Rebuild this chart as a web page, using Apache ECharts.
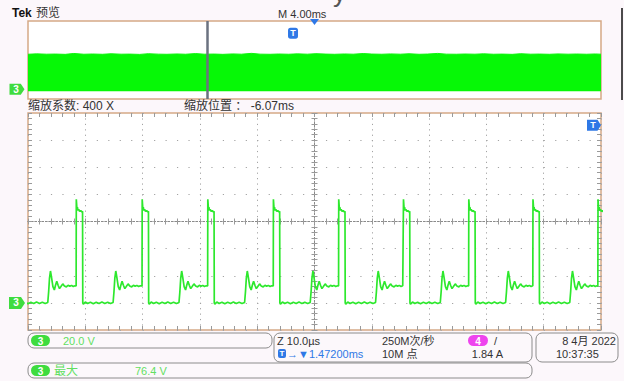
<!DOCTYPE html>
<html><head><meta charset="utf-8">
<script src="https://cdn.jsdelivr.net/npm/echarts/dist/echarts.min.js"></script>
<style>html,body{margin:0;padding:0;background:#fcf7fb;}#c{width:624px;height:381px;}</style>
</head><body><div id="c"></div>
<script>
// ---- data ----
// rising-edge times of the switching pulses (µs, relative to trigger at centre)
const edgeTimes = [-53.0, -41.6, -30.1, -18.65, -7.2, 4.2, 15.5, 26.9, 38.1, 49.45];
// one cycle of the trace, [µs after rising edge, volts]
const cycleShape = [
  [0, 12.5], [0.03, 76.4], [0.1, 72], [0.16, 68], [0.22, 70.5], [0.3, 68.5], [0.45, 69], [0.6, 67.5],
  [0.8, 68], [1.0, 67], [1.12, 67.5], [1.16, 0], [1.25, -1], [1.6, 0.6], [2.0, -0.5], [2.5, 0.5],
  [3.0, -0.6], [3.5, 0.4], [4.0, -0.5], [4.5, 0.6], [5.0, -0.4], [5.5, 0.5], [6.0, -0.5], [6.45, 0.3],
  [6.6, 8], [6.75, 18], [6.92, 23.5], [7.1, 19], [7.35, 12], [7.6, 9.5], [7.8, 13], [8.02, 16],
  [8.25, 13], [8.5, 10.5], [8.75, 12], [9.07, 14], [9.35, 12.5], [9.7, 11.8], [10.0, 13], [10.3, 12.2],
  [10.6, 12.9], [10.9, 12.1], [11.2, 12.6]
];
// preview (whole record) envelope top, [ms, volts]
const previewEnvelope = [[-20,75.8],[-19.4,76.6],[-18.7,75.9],[-18.1,76.2],[-17.4,75.6],[-16.8,77.4],[-16.1,75.8],[-15.5,76.3],[-14.8,75.7],[-14.2,76.8],[-13.5,75.9],[-12.9,76.1],[-12.2,75.5],[-11.6,76.9],[-10.9,76.0],[-10.3,75.7],[-9.6,76.4],[-9.0,75.8],[-8.3,77.2],[-7.7,75.9],[-7.0,76.2],[-6.4,75.6],[-5.7,76.5],[-5.1,75.9],[-4.4,77.6],[-3.8,76.0],[-3.1,75.7],[-2.5,76.3],[-1.8,75.8],[-1.2,76.6],[-0.5,75.9],[0.1,77.0],[0.8,76.1],[1.4,75.7],[2.1,76.4],[2.7,75.9],[3.4,77.3],[4.0,76.2],[4.7,75.8],[5.3,76.5],[6.0,75.9],[6.6,76.8],[7.3,75.7],[7.9,76.2],[8.6,77.5],[9.2,76.0],[9.9,75.8],[10.5,76.3],[11.2,75.9],[11.8,76.7],[12.5,75.8],[13.1,76.1],[13.8,75.6],[14.4,76.9],[15.1,75.9],[15.7,76.2],[16.4,75.7],[17.0,76.5],[17.7,75.9],[18.3,76.3],[19.0,75.8],[19.6,76.4],[20,75.9]];
const zoomMarkTime = -7.5;      // ms, zoom window position in preview
const previewTrigTime = -1.5;   // ms
const trigLevel = 131;          // V position of trigger marker
// axis settings
const timeRange = [-50, 50], timeDiv = 10;     // µs
const voltRange = [-20, 140], voltDiv = 20;    // V
const previewTimeRange = [-20, 20];            // ms
const previewVoltRange = [-16, 144];

// texts
const txt = {
  tek: 'Tek', preview: '预览', mtime: 'M 4.00ms',
  zoomFactor: '缩放系数: 400 X', zoomPos: '缩放位置 ： -6.07ms',
  ch3scale: '20.0 V', zscale: 'Z 10.0µs', trigPos: '→▼1.47200ms',
  rate: '250M次/秒', points: '10M 点', trigSlope: '/', trigVal: '1.84 A',
  date: '8 4月 2022', time: '10:37:35', measName: '最大', measVal: '76.4 V'
};

// build trace table from the read cycle shape placed at each read edge
const trace = [];
edgeTimes.forEach(t0 => cycleShape.forEach(p => trace.push([+(t0 + p[0]).toFixed(3), p[1]])));

const FONT = '"Liberation Sans","Noto Sans CJK SC",sans-serif';
const GREEN = '#2de82d', DOT = '#a3a3a3', TICK = '#9a9a9a', BORDER = '#d5a986';
const arrowPath = 'path://M0,0 L12,0 L16,6 L12,12 L0,12 Z';

function borderX(pos, split) {
  return { gridIndex: 0, type: 'value', min: timeRange[0], max: timeRange[1], interval: timeDiv, position: pos,
    axisLine: { show: false, onZero: false }, axisLabel: { show: false },
    axisTick: { show: true, inside: true, length: 4, lineStyle: { color: TICK } },
    minorTick: { show: true, splitNumber: 5, length: 4, lineStyle: { color: TICK } },
    splitLine: { show: split, lineStyle: { color: DOT, width: 1, type: [1.2, 4.22] } } };
}
function centerX(inside) {
  return { gridIndex: 0, type: 'value', min: timeRange[0], max: timeRange[1], interval: timeDiv,
    axisLine: { show: true, onZero: true, onZeroAxisIndex: 2, lineStyle: { color: '#8a8a8a', width: 1, type: [1.5, 2] } },
    axisLabel: { show: false }, splitLine: { show: false },
    axisTick: { show: true, inside: inside, length: 3, lineStyle: { color: TICK } },
    minorTick: { show: true, splitNumber: 5, length: 3, lineStyle: { color: TICK } } };
}
function borderY(pos, split) {
  return { gridIndex: 0, type: 'value', min: voltRange[0], max: voltRange[1], interval: voltDiv, position: pos,
    axisLine: { show: false, onZero: false }, axisLabel: { show: false },
    axisTick: { show: true, inside: true, length: 4, lineStyle: { color: TICK } },
    minorTick: { show: true, splitNumber: 5, length: 4, lineStyle: { color: TICK } },
    splitLine: { show: split, lineStyle: { color: DOT, width: 1, type: [1.2, 10.26] } } };
}
function centerY(inside) {
  return { gridIndex: 0, type: 'value', min: voltRange[0], max: voltRange[1], interval: voltDiv, position: 'left',
    axisLine: { show: true, onZero: true, onZeroAxisIndex: 0, lineStyle: { color: '#8a8a8a', width: 1, type: [1.5, 2] } },
    axisLabel: { show: false }, splitLine: { show: false },
    axisTick: { show: true, inside: inside, length: 3, lineStyle: { color: TICK } },
    minorTick: { show: true, splitNumber: 5, length: 3, lineStyle: { color: TICK } } };
}

function t(x, y, text, fill, size, extra) {
  return Object.assign({ type: 'text', x: x, y: y, silent: true,
    style: Object.assign({ text: text, fill: fill, font: (size || 11) + 'px ' + FONT, verticalAlign: 'middle' }, extra || {}) });
}
function box(x, y, w, h) {
  return { type: 'rect', shape: { x: x, y: y, width: w, height: h, r: 6 }, style: { fill: '#fcf8fb', stroke: '#8c8c8c', lineWidth: 1 }, silent: true };
}
function pill(x, y, w, h, color, label) {
  return [{ type: 'rect', shape: { x: x, y: y, width: w, height: h, r: h / 2 }, style: { fill: color }, silent: true },
    t(x + w / 2, y + h / 2 + 0.5, label, '#ffffff', 10, { align: 'center', font: 'bold 10px ' + FONT })];
}

const chart = echarts.init(document.getElementById('c'), null, { renderer: 'svg', width: 624, height: 381 });
const DARK = '#333333', LG = '#62df62', BLUE = '#2f78e6';
chart.setOption({
  animation: false,
  backgroundColor: '#fcf7fb',
  grid: [
    { left: 28, top: 113, width: 573, height: 217, show: true, backgroundColor: '#ffffff', borderColor: BORDER, borderWidth: 1.5 },
    { left: 28, top: 21, width: 573, height: 78, show: true, backgroundColor: '#ffffff', borderColor: BORDER, borderWidth: 1.5 }
  ],
  xAxis: [borderX('bottom', true), borderX('top', false), centerX(true), centerX(false),
    { gridIndex: 1, type: 'value', min: previewTimeRange[0], max: previewTimeRange[1], show: false }],
  yAxis: [borderY('left', true), borderY('right', false),
    { gridIndex: 0, type: 'value', min: -4, max: 4, show: false },
    centerY(true), centerY(false),
    { gridIndex: 1, type: 'value', min: previewVoltRange[0], max: previewVoltRange[1], show: false }],
  series: [
    { type: 'line', xAxisIndex: 0, yAxisIndex: 0, data: trace, showSymbol: false, symbol: 'none', clip: true,
      lineStyle: { color: GREEN, width: 1.7 }, z: 5,
      markPoint: { silent: true, animation: false, data: [
        { coord: [timeRange[0], 0], symbol: arrowPath, symbolSize: [16, 12], symbolOffset: [-11, 0],
          itemStyle: { color: '#3fdc3f' }, label: { show: true, formatter: '3', color: '#fff', fontSize: 10, fontWeight: 'bold', offset: [-1, 0] } },
        { coord: [timeRange[1], trigLevel], symbol: arrowPath, symbolSize: [14, 11], symbolOffset: [-7, 0],
          itemStyle: { color: BLUE }, label: { show: true, formatter: 'T', color: '#fff', fontSize: 9, fontWeight: 'bold', offset: [-1, 0] } }
      ] } },
    { type: 'line', xAxisIndex: 4, yAxisIndex: 5, data: previewEnvelope, showSymbol: false, symbol: 'none',
      lineStyle: { color: '#0ef50e', width: 1 }, areaStyle: { color: '#06f806', opacity: 1 },
      markLine: { silent: true, symbol: 'none', label: { show: false }, animation: false,
        lineStyle: { color: '#6b7280', width: 2.5, type: 'solid' }, data: [{ xAxis: zoomMarkTime }] },
      markPoint: { silent: true, animation: false, data: [
        { coord: [previewTimeRange[0], 0], symbol: arrowPath, symbolSize: [15, 11], symbolOffset: [-11, -2],
          itemStyle: { color: '#3fdc3f' }, label: { show: true, formatter: '3', color: '#fff', fontSize: 10, fontWeight: 'bold', offset: [-1, 0] } },
        { coord: [previewTrigTime, 119], symbol: 'roundRect', symbolSize: [10, 11],
          itemStyle: { color: BLUE }, label: { show: true, formatter: 'T', color: '#fff', fontSize: 9, fontWeight: 'bold' } },
        { coord: [0, previewVoltRange[1]], symbol: 'triangle', symbolRotate: 180, symbolSize: [9, 6], symbolOffset: [0, 1],
          itemStyle: { color: BLUE }, label: { show: false } }
      ] } }
  ],
  graphic: { elements: [
    t(12, 13, txt.tek, '#111111', 12, { font: 'bold 12px ' + FONT }),
    t(36, 13, txt.preview, DARK, 12),
    t(278, 14, txt.mtime, DARK, 11),
    t(333, 6, 'y', '#555555', 26, { verticalAlign: 'bottom' }),
    { type: 'line', shape: { x1: 622, y1: 8, x2: 622, y2: 100 }, style: { stroke: '#111', lineWidth: 1.5 }, silent: true },
    t(28, 106, txt.zoomFactor, DARK, 12),
    t(184, 106, txt.zoomPos, DARK, 12),
    box(28, 333, 244, 15),
    ...pill(31, 335, 19, 11, '#3fdc3f', '3'),
    t(63, 341, txt.ch3scale, LG, 11),
    box(274, 333, 258, 29),
    t(277, 341, txt.zscale, DARK, 11),
    { type: 'rect', shape: { x: 278, y: 349, width: 8, height: 9, r: 2 }, style: { fill: BLUE }, silent: true },
    t(282, 353.5, 'T', '#ffffff', 8, { align: 'center', font: 'bold 8px ' + FONT }),
    t(287, 354, txt.trigPos, BLUE, 11),
    t(382, 341, txt.rate, DARK, 11),
    t(382, 354, txt.points, DARK, 11),
    ...pill(468, 335, 20, 11, '#ee44ee', '4'),
    t(494, 341, txt.trigSlope, DARK, 11),
    t(503, 354, txt.trigVal, DARK, 11, { align: 'right' }),
    box(536, 333, 82, 29),
    t(616, 341, txt.date, DARK, 11, { align: 'right' }),
    t(556, 354, txt.time, DARK, 11),
    box(28, 363, 504, 15),
    ...pill(31, 365, 19, 11, '#3fdc3f', '3'),
    t(54, 371, txt.measName, LG, 12),
    t(135, 371, txt.measVal, LG, 11)
  ] }
});
</script>
</body></html>
